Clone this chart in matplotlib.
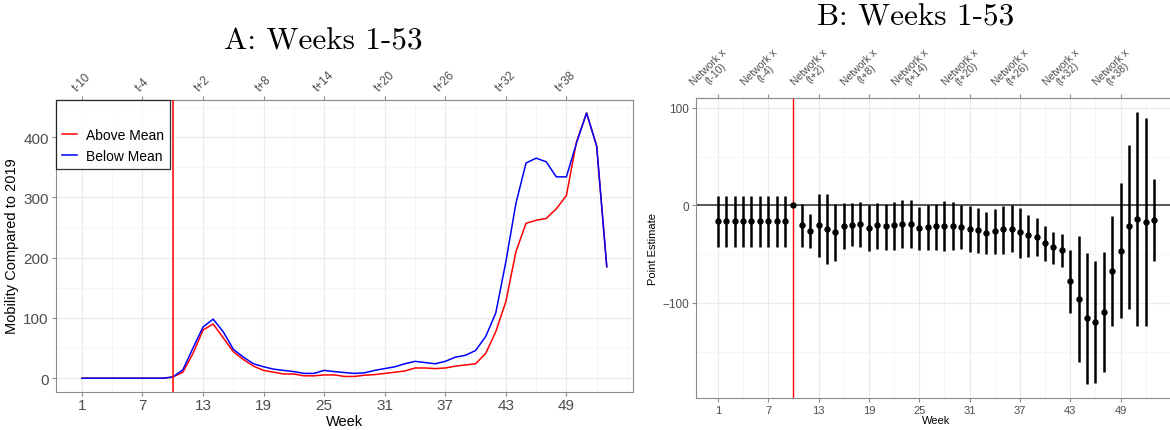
import matplotlib
matplotlib.use('Agg')
import matplotlib.pyplot as plt
import matplotlib.transforms as mtransforms

# ---------------- data ----------------
weeks = list(range(1, 54))
above_mean = [0, 0, 0, 0, 0, 0, 0, 0, 0, 2, 10, 41, 80, 90, 67, 44, 31, 20, 13, 10,
              7, 7, 4, 4, 5.5, 5.5, 3, 3, 5, 6, 8, 10, 12, 17, 17, 16, 17, 20, 22, 24,
              41, 77, 127, 210, 257, 262, 265, 281, 303, 392, 440, 385, 185]
below_mean = [0, 0, 0, 0, 0, 0, 0, 0, 0, 2, 14, 50, 85, 98, 77, 48, 35, 24, 19, 15,
              13, 11, 8, 8, 13, 11, 9.5, 8, 9, 13, 16, 19, 24, 28, 26, 24, 28, 35, 38, 46,
              69, 108, 193, 290, 357, 365, 359, 334, 334, 390, 440, 385, 185]

estimate = [-16.5] * 9 + [0, -20.5, -26.3, -20.5, -24, -27.4, -21, -20, -19, -23, -20.5,
            -21.5, -20.5, -19.5, -19, -23.6, -22, -21.5, -21, -21, -22, -24, -25, -28.4,
            -26.7, -24.6, -24, -27.7, -30.8, -32.5, -38.6, -43, -46, -78, -96, -116,
            -119.7, -109.4, -67.4, -46.5, -21.5, -14, -16.8, -14.7]
ci_low = [-43] * 9 + [0, -43, -44, -53, -60.5, -57, -45, -42, -43, -46.5, -45,
          -46, -45.5, -44, -44, -46, -45.5, -46, -46.5, -45.5, -45, -47.5, -48.5, -50,
          -50, -50, -48, -53.7, -53, -52.3, -56.8, -60, -63, -110.8, -160.7, -183.6,
          -182, -171, -124, -116, -106, -124, -124, -57]
ci_high = [10] * 9 + [0, 1.4, -9, 12, 12, 1.4, 2.7, 2, 3.4, 0, 2.7,
           1.7, 3.8, 5.8, 5.5, -2, 0.7, 1.7, 4, 3.8, 0, -1, -2.4, -6.5,
           -3.8, -0.7, 0, -2.4, -9.6, -13, -21, -27, -29.4, -45.5, -32, -49,
           -57, -48, -11.3, 23, 62, 95.7, 90, 27.4]

tick_weeks = [1, 7, 13, 19, 25, 31, 37, 43, 49]
top_labels_a = ['t-10', 't-4', 't+2', 't+8', 't+14', 't+20', 't+26', 't+32', 't+38']
top_labels_b = ['Network x\n(t-10)', 'Network x\n(t-4)', 'Network x\n(t+2)',
                'Network x\n(t+8)', 'Network x\n(t+14)', 'Network x\n(t+20)',
                'Network x\n(t+26)', 'Network x\n(t+32)', 'Network x\n(t+38)']
minor_weeks = [4, 10, 16, 22, 28, 34, 40, 46, 52, 55]
treat_week = 10

# ---------------- style ----------------
plt.rcParams['font.family'] = ['Liberation Sans', 'DejaVu Sans']
GRID_MAJ = '#ebebeb'
GRID_MIN = '#f4f4f4'
BORDER = '#8c8c8c'
TICKC = '#4d4d4d'

W, H = 1170, 431
fig = plt.figure(figsize=(W / 100, H / 100), dpi=100)


def fbox(x0, y0, x1, y1):
    return [x0 / W, 1 - y1 / H, (x1 - x0) / W, (y1 - y0) / H]


def style_axes(ax, ysize, xsize):
    ax.set_facecolor('white')
    for s in ax.spines.values():
        s.set_color(BORDER)
        s.set_linewidth(0.8)
    ax.set_xticks(tick_weeks)
    ax.set_xticks(minor_weeks, minor=True)
    ax.grid(True, which='major', color=GRID_MAJ, lw=0.9, zorder=0)
    ax.grid(True, which='minor', color=GRID_MIN, lw=0.6, zorder=0)
    ax.set_axisbelow(True)
    ax.tick_params(which='major', length=3, width=0.8, color=BORDER,
                   labelcolor=TICKC, pad=2)
    ax.tick_params(axis='y', labelsize=ysize)
    ax.tick_params(axis='x', labelsize=xsize)
    ax.tick_params(which='minor', length=0)


# ---------------- Panel A ----------------
axA = fig.add_axes(fbox(55.7, 100.7, 633, 392.5))
axA.plot(weeks, above_mean, color='#ff0000', lw=1.1, label='Above Mean', zorder=3)
axA.plot(weeks, below_mean, color='#0000ff', lw=1.1, label='Below Mean', zorder=4)
axA.axvline(treat_week, color='#ff0000', lw=1.1, zorder=5)
axA.set_xlim(-1.6, 55.6)
axA.set_ylim(-22, 462)
axA.set_yticks([0, 100, 200, 300, 400])
axA.set_yticks([50, 150, 250, 350, 450], minor=True)
style_axes(axA, 11, 11)
axA.set_xlabel('Week', fontsize=10.5, labelpad=1)
axA.set_ylabel('Mobility Compared to 2019', fontsize=10.5, labelpad=3)

secA = axA.secondary_xaxis('top')
secA.set_xticks(tick_weeks, labels=top_labels_a)
secA.spines['top'].set_color(BORDER)
secA.tick_params(length=3, width=0.8, color=BORDER, labelcolor=TICKC,
                 labelsize=8.5, pad=2)
for lab in secA.get_xticklabels():
    lab.set_rotation(45)
    lab.set_ha('center')

leg = axA.legend(loc='upper left', bbox_to_anchor=(0, 1), borderaxespad=0,
                 frameon=True, fancybox=False, edgecolor='black', fontsize=10,
                 title=' ', title_fontsize=12, handlelength=1.1, handletextpad=0.6,
                 borderpad=0.45, labelspacing=0.5)
leg.get_frame().set_linewidth(0.9)
leg.set_zorder(10)

fig.text(323 / W, 1 - 50 / H, 'A: Weeks 1-53', family='cmr10', fontsize=22.5,
         ha='center', va='baseline')

# ---------------- Panel B ----------------
axB = fig.add_axes(fbox(696, 99.3, 1176, 399))
axB.axhline(0, color='#555555', lw=1.4, zorder=2)
axB.axvline(treat_week, color='#ff0000', lw=1.0, zorder=2)
err_lo = [e - lo for e, lo in zip(estimate, ci_low)]
err_hi = [hi - e for e, hi in zip(estimate, ci_high)]
axB.errorbar(weeks, estimate, yerr=[err_lo, err_hi], fmt='o', color='black',
             ms=3.6, elinewidth=1.8, capsize=0, zorder=4)
axB.set_xlim(-1.6, 55.6)
axB.set_ylim(-197.6, 109.7)
axB.set_yticks([-100, 0, 100])
axB.set_yticks([-150, -50, 50], minor=True)
style_axes(axB, 8.5, 8)
axB.set_xlabel('Week', fontsize=8, labelpad=0)
axB.set_ylabel('Point Estimate', fontsize=8, labelpad=3)

secB = axB.secondary_xaxis('top')
secB.set_xticks(tick_weeks, labels=top_labels_b)
secB.spines['top'].set_color(BORDER)
secB.tick_params(length=3, width=0.8, color=BORDER, labelcolor=TICKC,
                 labelsize=7.5, pad=1)
shift = mtransforms.ScaledTranslation(-6 / 100, 0, fig.dpi_scale_trans)
for lab in secB.get_xticklabels():
    lab.set_rotation(45)
    lab.set_ha('center')
    lab.set_multialignment('center')
    lab.set_linespacing(0.95)
    lab.set_transform(lab.get_transform() + shift)

fig.text(916 / W, 1 - 25 / H, 'B: Weeks 1-53', family='cmr10', fontsize=22.5,
         ha='center', va='baseline')

fig.savefig('out.png', dpi=100)
